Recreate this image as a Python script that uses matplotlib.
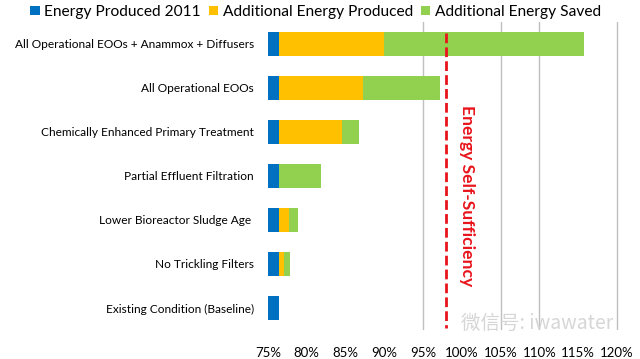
import numpy as np
import matplotlib.pyplot as plt

# ------------------------------------------------------------
# Data (percent of energy demand)
scenarios = [
    "All Operational EOOs + Anammox + Diffusers",
    "All Operational EOOs",
    "Chemically Enhanced Primary Treatment",
    "Partial Effluent Filtration",
    "Lower Bioreactor Sludge Age ",
    "No Trickling Filters",
    "Existing Condition (Baseline)",
]
produced_2011 = [76.4, 76.4, 76.4, 76.4, 76.4, 76.4, 76.4]
additional_produced = [13.6, 10.9, 8.1, 0.0, 1.3, 0.7, 0.0]
additional_saved = [25.7, 9.9, 2.2, 5.4, 1.2, 0.7, 0.0]

axis_start = 75
xticks = [75, 80, 85, 90, 95, 100, 105, 110, 115, 120]
visible_grid = [95, 105, 110, 120]
self_sufficiency = 98

colors = {"blue": "#0070C0", "orange": "#FFC000", "green": "#92D050"}

# ------------------------------------------------------------
plt.rcParams["font.family"] = ["Lato", "DejaVu Sans"]
fig = plt.figure(figsize=(6.4, 3.59), dpi=100)
ax = fig.add_axes([268 / 640, 1 - 330 / 359, (617 - 268) / 640 * 45.4 / 45, (330 - 22) / 359])

y = np.arange(len(scenarios))
base = np.array(produced_2011) - axis_start
prod = np.array(additional_produced)
saved = np.array(additional_saved)

for gx in visible_grid:
    ax.axvline(gx, color="#BFBFBF", linewidth=1.0, zorder=0)

ax.barh(y, base, left=axis_start, height=0.56, color=colors["blue"], label="Energy Produced 2011", zorder=2)
ax.barh(y, prod, left=axis_start + base, height=0.56, color=colors["orange"], label="Additional Energy Produced", zorder=2)
ax.barh(y, saved, left=axis_start + base + prod, height=0.56, color=colors["green"], label="Additional Energy Saved", zorder=2)

ax.set_ylim(len(scenarios) - 0.5, -0.5)
ax.set_xlim(axis_start, 120.4)
ax.set_yticks(y)
ax.set_yticklabels(scenarios, fontsize=8.6)
ax.set_xticks(xticks)
ax.set_xticklabels([f"{t}%" for t in xticks], fontsize=9.5)
ax.tick_params(length=0)
ax.tick_params(axis="x", pad=12)
ax.tick_params(axis="y", pad=10)
for s in ax.spines.values():
    s.set_visible(False)

# dashed self-sufficiency line
ax.plot([self_sufficiency, self_sufficiency], [-0.25, 6.45], color="#E8141B", linestyle=(0, (3.5, 1.5)),
        linewidth=2, zorder=3, clip_on=False)
ax.text(self_sufficiency + 2.7, 3.45, "Energy Self-Sufficiency", rotation=-90, color="#E8141B",
        fontsize=12.6, fontweight="bold", ha="center", va="center", zorder=4)

# watermark
fig.text(0.84, 0.10, "微信号: iwawater", family=["Noto Sans CJK SC", "DejaVu Sans"],
         fontsize=14, color="#D6D6D6", ha="center", va="center", zorder=5)

leg = fig.legend(loc="upper center", bbox_to_anchor=(0.493, 1.025), ncol=3, frameon=False, fontsize=11.2,
                 handlelength=0.6, handleheight=0.6, handletextpad=0.3, columnspacing=0.5)

fig.savefig("out.png", dpi=100)
